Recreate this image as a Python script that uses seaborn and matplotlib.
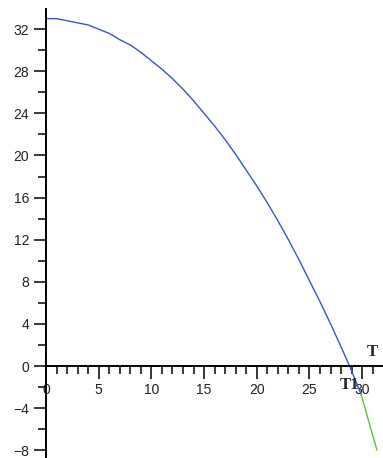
import matplotlib
matplotlib.use("Agg")
import matplotlib.pyplot as plt
import seaborn as sns
import pandas as pd

# values
t_main = [0, 1, 2, 3, 4, 5, 6, 7, 8, 9, 10, 11, 12, 13, 14, 15, 16, 17, 18, 19,
          20, 21, 22, 23, 24, 25, 26, 27, 28, 28.8, 29.9]
y_main = [33.0, 33.0, 32.8, 32.6, 32.4, 32.0, 31.6, 31.0, 30.5, 29.8, 29.0, 28.2,
          27.3, 26.3, 25.2, 24.0, 22.8, 21.5, 20.1, 18.6, 17.1, 15.5, 13.8, 12.0,
          10.1, 8.1, 6.1, 4.0, 1.8, 0.0, -2.7]
t_tail = [29.9, 30.6, 31.4]
y_tail = [-2.7, -5.2, -8.0]

x_major = [0, 5, 10, 15, 20, 25, 30]
y_major = [-8, -4, 0, 4, 8, 12, 16, 20, 24, 28, 32]

main = pd.DataFrame({"T": t_main, "y": y_main})
tail = pd.DataFrame({"T": t_tail, "y": y_tail})

sns.set_style("ticks")
plt.rcParams["font.family"] = ["Liberation Sans", "DejaVu Sans"]

fig = plt.figure(figsize=(3.83, 4.58), dpi=100)
ax = fig.add_axes([0.12, 0.0, 0.878, 0.98])

sns.lineplot(data=main, x="T", y="y", color="#3a55c8", linewidth=1.0, ax=ax,
             sort=False)
sns.lineplot(data=tail, x="T", y="y", color="#5cc43c", linewidth=1.0, ax=ax,
             sort=False)

ax.set_xlim(0, 31.9)
ax.set_ylim(-8.74, 33.9)

ax.spines["left"].set_position(("data", 0))
ax.spines["bottom"].set_position(("data", 0))
ax.spines["top"].set_visible(False)
ax.spines["right"].set_visible(False)
for s in ("left", "bottom"):
    ax.spines[s].set_linewidth(1.4)
    ax.spines[s].set_color("black")

ax.set_xticks(x_major)
ax.set_xticks(range(0, 32), minor=True)
ax.set_yticks(y_major)
ax.set_yticks(range(-8, 34, 2), minor=True)
ax.tick_params(which="major", length=9, width=1.1, labelsize=10, pad=3,
               direction="out", color="black", labelcolor="#222222")
ax.tick_params(which="minor", length=6, width=1.1, direction="out",
               color="black")

ax.set_xlabel("")
ax.set_ylabel("")

ax.text(31.0, 0.6, "T", family="Liberation Serif", fontweight="bold",
        fontsize=12, ha="center", va="bottom")
ax.text(28.8, -1.0, "T1", family="Liberation Serif", fontweight="bold",
        fontsize=12, ha="center", va="top")

fig.savefig("out.png", dpi=100)
